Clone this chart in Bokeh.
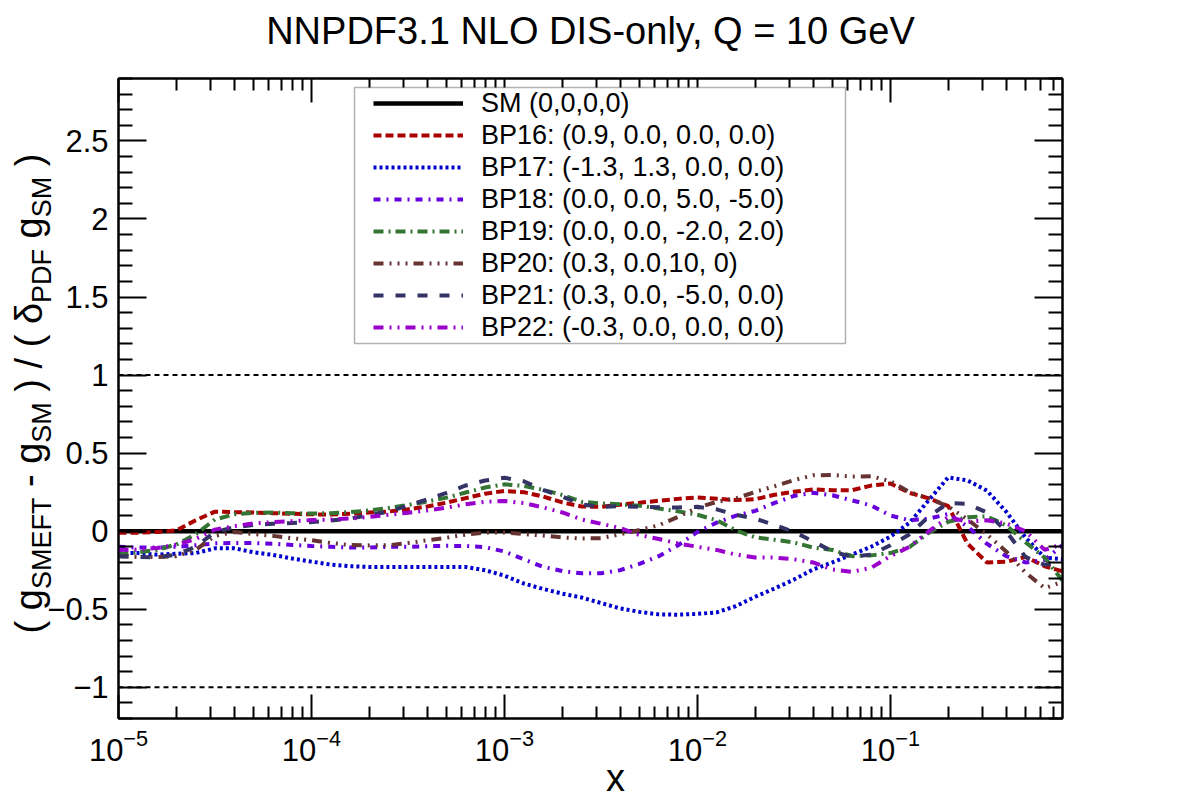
import math
from bokeh.plotting import figure
from bokeh.layouts import row
from bokeh.models import (Range1d, FixedTicker, LogAxis, LinearAxis, Span, Legend,
                          LegendItem, Label, BoxAnnotation, CustomJSTickFormatter)
from bokeh.embed import file_html
from bokeh.resources import INLINE

# ---------------- data ----------------
title_text = "NNPDF3.1 NLO DIS-only, Q = 10 GeV"
x_title = "x"

log10_x = [-5.0, -4.9, -4.8, -4.7, -4.6, -4.5, -4.4, -4.3, -4.2, -4.1,
           -4.0, -3.9, -3.8, -3.7, -3.6, -3.5, -3.4, -3.3, -3.2, -3.1,
           -3.0, -2.9, -2.8, -2.7, -2.6, -2.5, -2.4, -2.3, -2.2, -2.1,
           -2.0, -1.9, -1.8, -1.7, -1.6, -1.5, -1.4, -1.3, -1.2, -1.1,
           -1.0, -0.9, -0.8, -0.7, -0.6, -0.5, -0.4, -0.3, -0.2, -0.1]

sm = [0.0] * len(log10_x)
bp16 = [-0.01, -0.01, -0.005, 0.005, 0.07, 0.125, 0.122, 0.12, 0.115, 0.112,
        0.108, 0.107, 0.112, 0.12, 0.126, 0.14, 0.158, 0.183, 0.212, 0.24,
        0.258, 0.25, 0.222, 0.184, 0.158, 0.156, 0.17, 0.182, 0.195, 0.207,
        0.216, 0.208, 0.199, 0.205, 0.233, 0.252, 0.268, 0.262, 0.262, 0.292,
        0.305, 0.245, 0.21, 0.16, -0.08, -0.2, -0.196, -0.165, -0.225, -0.26]
bp17 = [-0.14, -0.14, -0.15, -0.145, -0.14, -0.11, -0.11, -0.135, -0.152, -0.175,
        -0.195, -0.214, -0.224, -0.229, -0.229, -0.229, -0.229, -0.229, -0.23, -0.25,
        -0.285, -0.335, -0.37, -0.4, -0.425, -0.46, -0.495, -0.517, -0.533, -0.535,
        -0.53, -0.52, -0.48, -0.42, -0.367, -0.31, -0.245, -0.2, -0.15, -0.1,
        -0.035, 0.055, 0.2, 0.345, 0.325, 0.26, 0.125, -0.04, -0.17, -0.18]
bp18 = [-0.1, -0.105, -0.105, -0.1, -0.09, -0.078, -0.076, -0.076, -0.08, -0.088,
        -0.095, -0.1, -0.105, -0.104, -0.1, -0.1, -0.096, -0.094, -0.095, -0.103,
        -0.13, -0.18, -0.229, -0.255, -0.27, -0.27, -0.25, -0.21, -0.16, -0.09,
        -0.005, 0.055, 0.1, 0.13, 0.181, 0.226, 0.246, 0.23, 0.198, 0.165,
        0.1, 0.07, 0.08, 0.11, 0.03, -0.08, -0.16, -0.2, -0.185, -0.08]
bp19 = [-0.15, -0.135, -0.12, -0.085, -0.02, 0.075, 0.108, 0.117, 0.12, 0.115,
        0.113, 0.115, 0.122, 0.133, 0.149, 0.168, 0.19, 0.215, 0.248, 0.28,
        0.3, 0.29, 0.265, 0.232, 0.188, 0.178, 0.172, 0.163, 0.145, 0.127,
        0.105, 0.07, 0.005, -0.04, -0.055, -0.072, -0.105, -0.12, -0.16, -0.155,
        -0.14, -0.1, -0.01, 0.06, 0.09, 0.095, 0.038, -0.07, -0.17, -0.33]
bp20 = [-0.16, -0.165, -0.165, -0.16, -0.12, -0.03, -0.005, -0.018, -0.03, -0.045,
        -0.058, -0.076, -0.089, -0.091, -0.09, -0.076, -0.058, -0.042, -0.022, -0.008,
        -0.008, -0.018, -0.028, -0.04, -0.047, -0.045, -0.02, 0.008, 0.038, 0.092,
        0.15, 0.188, 0.21, 0.252, 0.288, 0.327, 0.358, 0.36, 0.35, 0.352,
        0.32, 0.25, 0.21, 0.158, 0.075, -0.02, -0.13, -0.265, -0.365, -0.32]
bp21 = [-0.16, -0.165, -0.167, -0.15, -0.1, -0.005, 0.025, 0.04, 0.047, 0.052,
        0.058, 0.068, 0.08, 0.105, 0.124, 0.165, 0.203, 0.246, 0.293, 0.325,
        0.342, 0.32, 0.265, 0.222, 0.171, 0.156, 0.16, 0.157, 0.153, 0.152,
        0.156, 0.14, 0.105, 0.08, 0.04, -0.005, -0.065, -0.13, -0.165, -0.15,
        -0.09, -0.02, 0.095, 0.18, 0.175, 0.12, 0.0, -0.165, -0.215, -0.2]
bp22 = [-0.12, -0.118, -0.108, -0.087, -0.05, 0.01, 0.032, 0.05, 0.058, 0.064,
        0.071, 0.075, 0.081, 0.092, 0.105, 0.118, 0.133, 0.151, 0.172, 0.188,
        0.194, 0.18, 0.152, 0.12, 0.075, 0.048, 0.02, -0.025, -0.05, -0.079,
        -0.1, -0.12, -0.15, -0.168, -0.169, -0.18, -0.2, -0.245, -0.26, -0.235,
        -0.16, -0.1, 0.0, 0.09, 0.06, 0.07, 0.05, 0.0, -0.12, -0.08]

series_labels = ["SM (0,0,0,0)",
                 "BP16: (0.9, 0.0, 0.0, 0.0)",
                 "BP17: (-1.3, 1.3, 0.0, 0.0)",
                 "BP18: (0.0, 0.0, 5.0, -5.0)",
                 "BP19: (0.0, 0.0, -2.0, 2.0)",
                 "BP20: (0.3, 0.0,10, 0)",
                 "BP21: (0.3, 0.0, -5.0, 0.0)",
                 "BP22: (-0.3, 0.0, 0.0, 0.0)"]
series_values = [sm, bp16, bp17, bp18, bp19, bp20, bp21, bp22]

x_major_ticks = [1e-5, 1e-4, 1e-3, 1e-2, 1e-1]
y_major_ticks = [-1.0, -0.5, 0.0, 0.5, 1.0, 1.5, 2.0, 2.5]
y_tick_text = ["\u22121", "\u22120.5", "0", "0.5", "1", "1.5", "2", "2.5"]
ref_levels = [1.0, -1.0]

# ---------------- styles ----------------
colors = ["#000000", "#aa0000", "#0000cc", "#6600dd", "#347534", "#663333", "#333366", "#9900cc"]
dashes = ["solid", "8 4", "3 3", "7 6 2 6", "10 5 2 5", "10 6 2 6 2 6 2 6", "10 12", "10 6 2 6 2 6"]
widths = [4.5, 4, 4, 4, 4, 4, 4, 4]

FONT = "Liberation Sans"
W, H = 1182, 800
FL, FT, FW, FH = 118, 78, 944, 640
XMIN, XMAX = 1e-5, 0.78
YMIN, YMAX = -1.2, 2.9

p = figure(x_axis_type="log", x_range=Range1d(XMIN, XMAX), y_range=Range1d(YMIN, YMAX),
           frame_width=FW, frame_height=FH, output_backend="svg", toolbar_location=None,
           title=None, tools="",
           min_border_left=FL, min_border_right=W - FL - FW, min_border_top=FT,
           min_border_bottom=H - FT - FH)
p.background_fill_color = "white"
p.border_fill_color = "white"
p.grid.visible = False
p.outline_line_color = "black"
p.outline_line_width = 2

x_minor = [k * m for m in x_major_ticks for k in range(2, 10)]
xticker = FixedTicker(ticks=x_major_ticks, minor_ticks=x_minor)
y_minor = [round(-1.2 + 0.1 * i, 1) for i in range(42)]
y_minor = [v for v in y_minor if all(abs(v - t) > 1e-6 for t in y_major_ticks)]
yticker = FixedTicker(ticks=y_major_ticks, minor_ticks=y_minor)


def style_axis(ax, maj, mnr):
    ax.axis_line_width = 2
    ax.major_tick_line_width = 2
    ax.minor_tick_line_width = 2
    ax.major_tick_in = maj
    ax.major_tick_out = 0
    ax.minor_tick_in = mnr
    ax.minor_tick_out = 0
    ax.major_label_text_font = FONT
    ax.major_label_text_color = "black"


bx = p.xaxis[0]
bx.ticker = xticker
style_axis(bx, 24, 12)
bx.major_label_text_font_size = "31px"
bx.major_label_standoff = 10

ly = p.yaxis[0]
ly.ticker = yticker
style_axis(ly, 28, 14)
ly.major_label_text_font_size = "31px"
ly.major_label_standoff = 10
ly.major_label_overrides = dict(zip(y_major_ticks, y_tick_text))

blank = CustomJSTickFormatter(code="return ''")
ty = LinearAxis(ticker=yticker, formatter=blank)
style_axis(ty, 28, 14)
ty.major_label_text_font_size = "1px"
ty.major_label_standoff = 0
p.add_layout(ty, "right")

tx = LogAxis(ticker=xticker, formatter=blank)
style_axis(tx, 24, 12)
tx.major_label_text_font_size = "1px"
tx.major_label_standoff = 0
p.add_layout(tx, "above")

for lv in ref_levels:
    p.add_layout(Span(location=lv, dimension="width", line_color="black",
                      line_width=2, line_dash="5 4"))

xs = [10 ** v for v in log10_x]
renderers = []
for vals, c, d, w in zip(series_values, colors, dashes, widths):
    r = p.line(xs, vals, line_color=c, line_dash=d, line_width=w)
    renderers.append(r)


def px2x(px):
    return 10 ** (math.log10(XMIN) + (px - FL) / FW * (math.log10(XMAX) - math.log10(XMIN)))


def py2y(py):
    return YMAX - (py - FT) / FH * (YMAX - YMIN)


box = BoxAnnotation(left=px2x(354), right=px2x(845), top=py2y(87), bottom=py2y(343),
                    fill_color="white", fill_alpha=1.0, line_color="black", line_width=1.5)
p.add_layout(box)

legend = Legend(items=[LegendItem(label=lab, renderers=[r]) for lab, r in zip(series_labels, renderers)],
                location=(373 - FL, FT + FH - 343), padding=0, margin=0, spacing=0,
                glyph_width=90, glyph_height=32, label_height=32, label_standoff=18,
                label_text_font=FONT, label_text_font_size="27px", label_text_color="black",
                border_line_alpha=0, background_fill_alpha=0)
p.add_layout(legend)

# ---------------- transparent overlay for texts outside the frame ----------------
ov = figure(width=W, height=H, x_range=Range1d(0, W), y_range=Range1d(H, 0),
            output_backend="svg", toolbar_location=None, tools="", title=None,
            x_axis_location=None, y_axis_location=None, min_border=0)
ov.min_border_left = 0
ov.min_border_right = 0
ov.min_border_top = 0
ov.min_border_bottom = 0
ov.outline_line_color = None
ov.background_fill_alpha = 0
ov.border_fill_alpha = 0
ov.grid.visible = False
ov.margin = (0, 0, 0, -W)
for fig in (p, ov):
    try:
        fig.frame_align = False
    except Exception:
        pass

ov.add_layout(Label(x=FL + FW / 2, y=30, text=title_text, text_font=FONT, text_font_size="38px",
                    text_align="center", text_baseline="alphabetic", text_color="black"))
ov.add_layout(Label(x=615, y=777, text=x_title, text_font=FONT, text_font_size="38px",
                    text_align="center", text_baseline="alphabetic", text_color="black"))

EM = {' ': 0.278, '(': 0.333, ')': 0.333, 'g': 0.556, '-': 0.333, '/': 0.278,
      '\u03b4': 0.556, 'S': 0.667, 'M': 0.833, 'E': 0.667, 'F': 0.611, 'T': 0.611,
      'P': 0.667, 'D': 0.722}
BIG, SMALL = 38, 27
pieces = [("( g", False, 0), ("SMEFT", True, 0), ("- g", False, 1), ("SM", True, 0),
          (") / ( \u03b4", False, 1), ("PDF", True, 0), ("g", False, 1), ("SM", True, 0),
          (")", False, 1)]


def tw(s, size):
    return sum(EM.get(ch, 0.556) for ch in s) * size


total = 0.0
for s, sub, gap in pieces:
    total += gap * EM[' '] * BIG + tw(s, SMALL if sub else BIG)
ycur = 393 + total / 2
x_main = 28
x_sub = x_main + 13
for s, sub, gap in pieces:
    ycur -= gap * EM[' '] * BIG
    size = SMALL if sub else BIG
    ov.add_layout(Label(x=x_sub if sub else x_main, y=ycur, text=s, angle=math.pi / 2,
                        text_font=FONT, text_font_size=f"{size}px", text_align="left",
                        text_baseline="alphabetic", text_color="black"))
    ycur -= tw(s, size)

layout = row(p, ov)
open("out.html", "w").write(file_html(layout, INLINE))
